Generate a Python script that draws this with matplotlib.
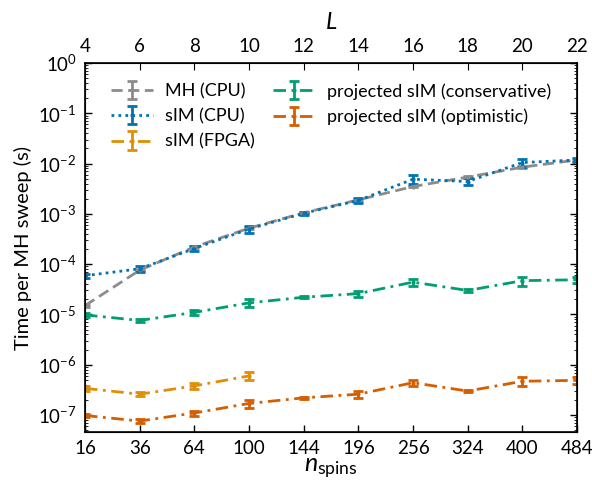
import numpy as np
import matplotlib
matplotlib.use("Agg")
import matplotlib.pyplot as plt

plt.rcParams['font.family'] = ['Lato', 'DejaVu Sans']
plt.rcParams['mathtext.fontset'] = 'custom'
plt.rcParams['mathtext.rm'] = 'Lato'
plt.rcParams['mathtext.it'] = 'Lato:italic'
plt.rcParams['font.size'] = 12

# lattice size L and number of spins L^2
L = [4, 6, 8, 10, 12, 14, 16, 18, 20, 22]
n_spins = [16, 36, 64, 100, 144, 196, 256, 324, 400, 484]

# time per MH sweep (s), with relative errors
mh_cpu = [1.5e-5, 7.6e-5, 2.2e-4, 5.2e-4, 1.05e-3, 1.9e-3, 3.5e-3, 5.4e-3, 8.5e-3, 1.18e-2]
mh_cpu_err = [0.04, 0.04, 0.04, 0.04, 0.04, 0.04, 0.04, 0.04, 0.04, 0.04]

sim_cpu = [5.9e-5, 8.1e-5, 2.05e-4, 5.0e-4, 1.03e-3, 1.85e-3, 4.9e-3, 4.4e-3, 1.05e-2, 1.18e-2]
sim_cpu_err = [0.10, 0.15, 0.12, 0.15, 0.08, 0.12, 0.20, 0.15, 0.20, 0.10]

sim_fpga = [3.4e-7, 2.6e-7, 3.8e-7, 6.0e-7]
sim_fpga_err = [0.10, 0.10, 0.12, 0.18]

proj_cons = [9.8e-6, 7.6e-6, 1.1e-5, 1.7e-5, 2.2e-5, 2.6e-5, 4.4e-5, 3.0e-5, 4.7e-5, 4.9e-5]
proj_cons_err = [0.08, 0.08, 0.12, 0.18, 0.05, 0.15, 0.15, 0.05, 0.20, 0.15]

proj_opt = [9.8e-8, 7.6e-8, 1.1e-7, 1.7e-7, 2.2e-7, 2.6e-7, 4.4e-7, 3.0e-7, 4.7e-7, 4.9e-7]
proj_opt_err = [0.08, 0.08, 0.12, 0.18, 0.05, 0.15, 0.15, 0.05, 0.20, 0.15]

c_gray = '#8c8c8c'
c_blue = '#0173b2'
c_yellow = '#de8f05'
c_green = '#029e73'
c_red = '#d55e00'

fig = plt.figure(figsize=(5.92, 4.87), dpi=100)
ax = fig.add_axes([0.1436, 0.1129, 0.8311, 0.7577])


def plot_series(x, y, rel, color, ls, label):
    y = np.array(y)
    err = y * np.array(rel)
    ax.errorbar(x, y, yerr=err, color=color, ls=ls, lw=2, marker='.', ms=4,
                capsize=3.5, capthick=2, elinewidth=2, label=label)


plot_series(L, mh_cpu, mh_cpu_err, c_gray, (0, (4, 2)), 'MH (CPU)')
plot_series(L, sim_cpu, sim_cpu_err, c_blue, (0, (1, 1.5)), 'sIM (CPU)')
plot_series(L[:4], sim_fpga, sim_fpga_err, c_yellow, (0, (4.5, 2, 1, 2)), 'sIM (FPGA)')
plot_series(L, proj_cons, proj_cons_err, c_green, (0, (4.5, 2, 1, 2)), 'projected sIM (conservative)')
plot_series(L, proj_opt, proj_opt_err, c_red, (0, (4.5, 2, 1, 2)), 'projected sIM (optimistic)')

ax.set_yscale('log')
ax.set_ylim(4.6e-8, 1)
ax.set_xlim(4, 22)
ax.set_xticks(L)
ax.set_xticklabels([str(n) for n in n_spins])
ax.set_xlabel(r'$n_{\mathrm{spins}}$', fontsize=18, labelpad=0)
ax.set_ylabel('Time per MH sweep (s)', fontsize=14.5, labelpad=4)
ax.tick_params(which='both', direction='in', right=True, labelsize=13.5)
ax.tick_params(which='major', length=5, width=1, pad=6)
ax.tick_params(which='minor', length=2.5)
for s in ax.spines.values():
    s.set_linewidth(1.2)

ax2 = ax.twiny()
ax2.set_xlim(4, 22)
ax2.set_xticks(L)
ax2.set_xticklabels([str(v) for v in L])
ax2.set_xlabel(r'$L$', fontsize=17, labelpad=6)
ax2.tick_params(direction='in', length=5, labelsize=13.5, pad=6)

ax.legend(loc='upper left', ncol=2, frameon=False, handlelength=2.3,
          handletextpad=0.7, labelspacing=0.5, columnspacing=1.0, fontsize=13,
          bbox_to_anchor=(0.02, 0.99))

fig.savefig('out.png', dpi=100)
